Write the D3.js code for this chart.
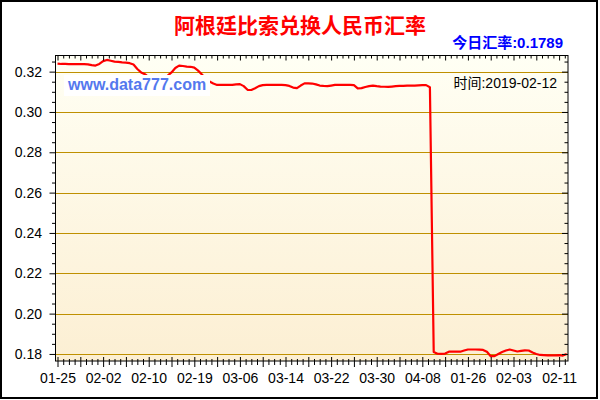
<!DOCTYPE html>
<html>
<head>
<meta charset="utf-8">
<script src="https://cdn.jsdelivr.net/npm/d3@7"></script>
<style>
  body { margin: 0; background: #fff; }
  svg { display: block; }
</style>
</head>
<body>
<svg width="600" height="400"></svg>
<script>
var svg = d3.select("svg");
var width = 600;
var height = 400;

var title = "阿根廷比索兑换人民币汇率";
var todayText = "今日汇率:0.1789";
var dateText = "时间:2019-02-12";
var watermark = "www.data777.com";

// x tick labels, one every 12 points
var labels = ["01-25", "02-02", "02-10", "02-19", "03-06", "03-14",
              "03-22", "03-30", "04-08", "01-26", "02-03", "02-11"];
var yTicks = [0.18, 0.20, 0.22, 0.24, 0.26, 0.28, 0.30, 0.32];

// rate, one per point
var rates = [
  0.3240, 0.3238, 0.3238, 0.3237, 0.3237, 0.3237, 0.3237, 0.3237, 0.3236, 0.3232,
  0.3230, 0.3238, 0.3252, 0.3258, 0.3254, 0.3250, 0.3248, 0.3246, 0.3245, 0.3242,
  0.3235, 0.3213, 0.3196, 0.3187, 0.3173, 0.3163, 0.3160, 0.3160, 0.3170, 0.3180,
  0.3196, 0.3218, 0.3230, 0.3228, 0.3225, 0.3224, 0.3220, 0.3205, 0.3186, 0.3165,
  0.3151, 0.3141, 0.3134, 0.3134, 0.3134, 0.3134, 0.3134, 0.3137, 0.3138, 0.3128,
  0.3110, 0.3109, 0.3118, 0.3128, 0.3133, 0.3134, 0.3134, 0.3134, 0.3134, 0.3134,
  0.3133, 0.3129, 0.3121, 0.3118, 0.3131, 0.3142, 0.3142, 0.3141, 0.3137, 0.3131,
  0.3129, 0.3128, 0.3131, 0.3134, 0.3134, 0.3134, 0.3134, 0.3134, 0.3133, 0.3117,
  0.3118, 0.3124, 0.3128, 0.3131, 0.3128, 0.3126, 0.3125, 0.3124, 0.3126, 0.3128,
  0.3129, 0.3129, 0.3131, 0.3131, 0.3131, 0.3132, 0.3133, 0.3133, 0.3123, 0.1810,
  0.1801, 0.1800, 0.1802, 0.1811, 0.1811, 0.1811, 0.1811, 0.1817, 0.1822, 0.1822,
  0.1822, 0.1821, 0.1820, 0.1811, 0.1789, 0.1789, 0.1800, 0.1810, 0.1817, 0.1822,
  0.1817, 0.1812, 0.1815, 0.1818, 0.1817, 0.1807, 0.1800, 0.1795, 0.1794, 0.1793,
  0.1793, 0.1793, 0.1794, 0.1792, 0.1800
];

// plot box (named so they don't clash with window.top)
var boxL = 55.5, boxR = 568, boxT = 55.5, boxB = 361;

var x = d3.scaleLinear().domain([-0.53, 134.34]).range([boxL, boxR]);
var y = d3.scaleLinear().domain([0.1765, 0.328]).range([boxB, boxT]);

var majorX = d3.range(0, 135, 6);
var minorX = d3.range(0, 135, 1.5).filter(function(d) { return d % 6 != 0; });
var minorY = d3.range(0.18, 0.328, 0.005).filter(function(d) {
  return Math.abs(Math.round(d * 50) - d * 50) > 0.01;
});

// outer border
svg.append("rect")
  .attr("x", 1).attr("y", 1)
  .attr("width", 596).attr("height", 397)
  .style("fill", "#fff")
  .style("stroke", "#000")
  .style("stroke-width", 2);

// plot background
var grad = svg.append("defs").append("linearGradient")
  .attr("id", "bg").attr("x1", 0).attr("y1", 0).attr("x2", 0).attr("y2", 1);
grad.append("stop").attr("offset", "0%").attr("stop-color", "#fffff4");
grad.append("stop").attr("offset", "100%").attr("stop-color", "#fcefd3");

svg.append("rect")
  .attr("x", boxL).attr("y", boxT)
  .attr("width", boxR - boxL).attr("height", boxB - boxT)
  .style("fill", "url(#bg)");

// grid
svg.selectAll("line.grid")
  .data(yTicks)
  .enter().append("line")
  .attr("class", "grid")
  .attr("x1", boxL).attr("x2", boxR)
  .attr("y1", function(d) { return Math.round(y(d)) + 0.5; })
  .attr("y2", function(d) { return Math.round(y(d)) + 0.5; })
  .style("stroke", "#bf9000")
  .style("stroke-width", 1);

// series line
var line = d3.line()
  .x(function(d, i) { return x(i); })
  .y(function(d) { return y(d); });

svg.append("path")
  .datum(rates)
  .attr("d", line)
  .style("fill", "none")
  .style("stroke", "#ff0000")
  .style("stroke-width", 2.2)
  .style("stroke-linejoin", "round");

// watermark
svg.append("rect")
  .attr("x", 64).attr("y", 75)
  .attr("width", 146).attr("height", 21)
  .style("fill", "#fff");

svg.append("text")
  .attr("x", 68).attr("y", 90)
  .style("font-family", "'Liberation Sans', Arial, sans-serif")
  .style("font-weight", "bold")
  .style("font-size", "16px")
  .style("fill", "#5478ee")
  .text(watermark);

svg.append("text")
  .attr("x", 557).attr("y", 88)
  .attr("text-anchor", "end")
  .style("font-family", "'Liberation Sans', 'Noto Sans CJK SC', sans-serif")
  .style("font-size", "14px")
  .style("fill", "#000")
  .text(dateText);

// frame
svg.append("rect")
  .attr("x", boxL).attr("y", boxT)
  .attr("width", boxR - boxL).attr("height", boxB - boxT)
  .style("fill", "none")
  .style("stroke", "#000")
  .style("stroke-width", 1);

function tickGroup(axis, tx, ty) {
  var g = svg.append("g")
    .attr("transform", "translate(" + tx + "," + ty + ")")
    .call(axis);
  g.select(".domain").remove();
  g.selectAll("line").style("stroke", "#000");
  return g;
}

// bottom ticks cross the frame
tickGroup(d3.axisBottom(x).tickValues(majorX).tickSize(10).tickFormat(""), 0, 357);
tickGroup(d3.axisBottom(x).tickValues(minorX).tickSize(6).tickFormat(""), 0, 359);

// top ticks point inward
tickGroup(d3.axisBottom(x).tickValues(majorX).tickSize(5).tickFormat(""), 0, boxT);
tickGroup(d3.axisBottom(x).tickValues(minorX).tickSize(3).tickFormat(""), 0, boxT);

// left ticks outward, right ticks inward
tickGroup(d3.axisLeft(y).tickValues(yTicks).tickSize(6).tickFormat(""), boxL, 0);
tickGroup(d3.axisLeft(y).tickValues(minorY).tickSize(3.5).tickFormat(""), boxL, 0);
tickGroup(d3.axisLeft(y).tickValues(yTicks).tickSize(6).tickFormat(""), boxR, 0);
tickGroup(d3.axisLeft(y).tickValues(minorY).tickSize(3.5).tickFormat(""), boxR, 0);

// x labels
var xLab = tickGroup(
  d3.axisBottom(x)
    .tickValues(labels.map(function(d, k) { return k * 12; }))
    .tickSize(0).tickPadding(0)
    .tickFormat(function(d) { return labels[d / 12]; }),
  0, 373);
xLab.selectAll("text")
  .style("font-family", "'Liberation Sans', Arial, sans-serif")
  .style("font-size", "14px")
  .style("fill", "#000");

// y labels
var yLab = tickGroup(
  d3.axisLeft(y).tickValues(yTicks).tickSize(0).tickPadding(0)
    .tickFormat(d3.format(".2f")),
  42, 0);
yLab.selectAll("text")
  .style("font-family", "'Liberation Sans', Arial, sans-serif")
  .style("font-size", "14px")
  .style("fill", "#000");

// titles
svg.append("text")
  .attr("x", 300).attr("y", 33)
  .attr("text-anchor", "middle")
  .style("font-family", "'Noto Sans CJK SC', sans-serif")
  .style("font-weight", "bold")
  .style("font-size", "21px")
  .style("fill", "#ff0000")
  .text(title);

svg.append("text")
  .attr("x", 563).attr("y", 48)
  .attr("text-anchor", "end")
  .style("font-family", "'Liberation Sans', 'Noto Sans CJK SC', sans-serif")
  .style("font-weight", "bold")
  .style("font-size", "15px")
  .style("fill", "#0000ff")
  .text(todayText);
</script>
</body>
</html>
